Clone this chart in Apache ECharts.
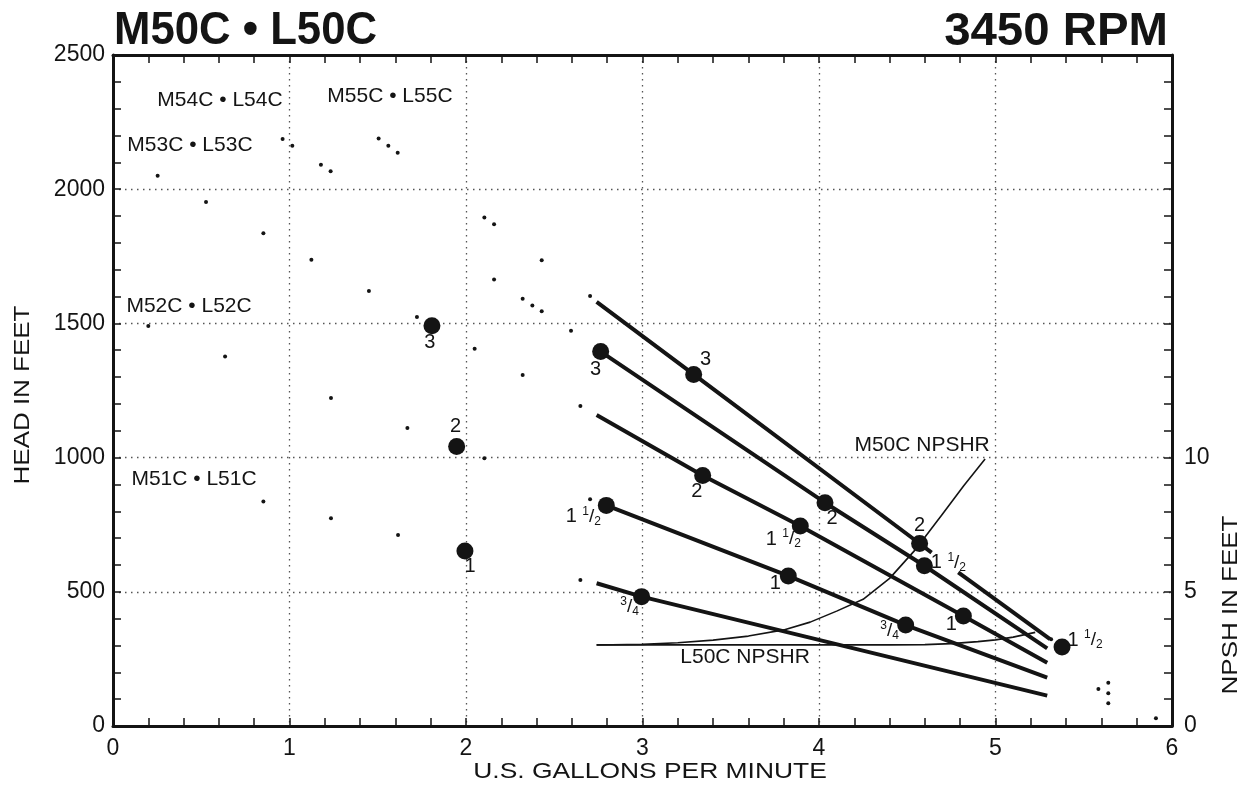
<!DOCTYPE html>
<html>
<head>
<meta charset="utf-8">
<script src="https://cdn.jsdelivr.net/npm/echarts@6/dist/echarts.min.js"></script>
<style>
html,body{margin:0;padding:0;background:#ffffff;}
#chart{width:1243px;height:796px;}
</style>
</head>
<body>
<div id="chart"></div>
<script>
// ---------- texts ----------
const titleLeft = 'M50C • L50C';
const titleRight = '3450 RPM';
const xAxisTitle = 'U.S. GALLONS PER MINUTE';
const yAxisTitle = 'HEAD IN FEET';
const y2AxisTitle = 'NPSH IN FEET';

// ---------- axes ----------
const xMin = 0, xMax = 6, xStep = 1;
const headMin = 0, headMax = 2500, headStep = 500;
const npshMin = 0, npshMax = 25, npshStep = 5;
const npshLabelled = [0, 5, 10];

// ---------- pump curves (gpm, head ft) ----------
const curve1a = [[2.740, 1580], [3.290, 1310], [4.570, 680], [4.638, 646]];
const curve1b = [[4.789, 572], [5.309, 324]];
const curve2 = [[2.763, 1395], [4.034, 832], [4.597, 597], [5.293, 289]];
const curve3 = [[2.740, 1159], [3.341, 933], [3.894, 745], [4.818, 410], [5.293, 236]];
const curve4 = [[2.795, 822], [3.826, 559], [4.491, 376], [5.293, 180]];
const curve5 = [[2.740, 532], [2.995, 482], [5.293, 113]];

// ---------- NPSHR curves (gpm, NPSH ft) ----------
const npshrM50C = [[2.740, 3.02], [3.000, 3.04], [3.200, 3.10], [3.400, 3.20], [3.600, 3.35],
                   [3.800, 3.58], [3.950, 3.87], [4.100, 4.28], [4.250, 4.72], [4.400, 5.50],
                   [4.550, 6.60], [4.700, 7.90], [4.820, 8.95], [4.941, 9.95]];
const npshrL50C = [[2.740, 3.02], [4.400, 3.02], [4.600, 3.03], [4.750, 3.07], [4.900, 3.14],
                   [5.000, 3.21], [5.100, 3.31], [5.225, 3.49]];

// ---------- horsepower points (gpm, head ft, label) ----------
const hpPoints = [
  [1.807, 1491, '3'], [1.947, 1041, '2'], [1.994, 652, '1'],
  [2.763, 1395, '3'], [3.290, 1310, '3'], [3.341, 933, '2'],
  [2.795, 822, '1 1/2'], [4.034, 832, '2'], [3.894, 745, '1 1/2'],
  [4.570, 680, '2'], [4.597, 597, '1 1/2'], [3.826, 559, '1'],
  [2.995, 482, '3/4'], [4.491, 376, '3/4'], [4.818, 410, '1'],
  [5.377, 294, '1 1/2']
];
// label offsets (pixels) for the points above, same order
const hpLabelOffsets = [
  [-2, 17], [-1, -20], [5, 15],
  [-5, 18], [12, -15], [-6, 16],
  [-23, 11], [7, 16], [-17, 13],
  [0, -18], [24, -3], [-13, 8],
  [-12, 10], [-16, 6], [-12, 9],
  [23, -7]
];

// ---------- small dots (gpm, head ft) ----------
const smallDots = [
  [0.253, 2050], [0.961, 2187], [1.016, 2162], [1.178, 2091], [1.233, 2067],
  [1.505, 2189], [1.560, 2162], [1.613, 2136],
  [0.527, 1952], [0.852, 1836], [1.124, 1737], [1.450, 1621], [1.722, 1524],
  [2.104, 1895], [2.159, 1869], [2.429, 1735], [2.159, 1664], [2.321, 1592],
  [2.376, 1567], [2.429, 1545],
  [0.200, 1490], [0.635, 1377], [2.049, 1406], [2.321, 1308], [1.235, 1222],
  [1.668, 1110], [2.104, 998], [0.852, 836], [1.235, 774], [1.615, 712],
  [2.703, 1602], [2.595, 1473], [2.648, 1192], [2.703, 845], [2.648, 544],
  [5.583, 138], [5.639, 161], [5.639, 122], [5.639, 85], [5.909, 29], [5.315, 323]
];

// ---------- text annotations (gpm, head ft, text) ----------
const modelLabels = [
  [0.606, 2332, 'M54C • L54C'],
  [1.569, 2347, 'M55C • L55C'],
  [0.436, 2165, 'M53C • L53C'],
  [0.431, 1565, 'M52C • L52C'],
  [0.459, 920, 'M51C • L51C']
];
const npshrLabels = [
  [4.584, 1047, 'M50C NPSHR'],
  [3.581, 258, 'L50C NPSHR']
];

// ---------- chart ----------
const FONT = '"Liberation Sans", Arial, Helvetica, sans-serif';
const INK = '#141414';
const dotted = { type: [1.5, 4.5], width: 1.3, color: '#555' };

function richLabel(s) {
  if (s.indexOf('/') < 0) return '{w|' + s + '}';
  const parts = s.split(' ');
  let out = '';
  const frac = parts[parts.length - 1];
  if (parts.length > 1) out += '{w|' + parts[0] + ' }';
  const nd = frac.split('/');
  out += '{n|' + nd[0] + '}{s|/}{d|' + nd[1] + '}';
  return out;
}

const richStyles = {
  w: { fontSize: 20, lineHeight: 22, fontFamily: FONT, color: INK },
  n: { fontSize: 12, lineHeight: 12, fontFamily: FONT, color: INK, verticalAlign: 'top' },
  s: { fontSize: 19, lineHeight: 22, fontFamily: FONT, color: INK },
  d: { fontSize: 12, lineHeight: 12, fontFamily: FONT, color: INK, verticalAlign: 'bottom' }
};

function lineSeries(data) {
  return {
    type: 'line', data: data, symbol: 'none', silent: true, z: 3,
    lineStyle: { width: 4, color: INK, cap: 'butt' }
  };
}

const baseXAxis = {
  type: 'value', min: xMin, max: xMax, interval: xStep,
  axisLine: { show: true, onZero: false, lineStyle: { color: INK, width: 3 } },
  axisTick: { show: true, inside: true, length: 8, lineStyle: { color: INK, width: 1.5 } },
  minorTick: { show: true, splitNumber: 5, length: 8, lineStyle: { color: INK, width: 1.5 } }
};

const option = {
  animation: false,
  backgroundColor: '#ffffff',
  grid: { left: 113, right: 71, top: 55, bottom: 70, containLabel: false },
  xAxis: [
    Object.assign({}, baseXAxis, {
      position: 'bottom',
      axisLabel: { show: true, margin: 11, fontSize: 23, color: INK, fontFamily: FONT },
      splitLine: { show: true, lineStyle: dotted }
    }),
    Object.assign({}, baseXAxis, {
      position: 'top',
      axisLabel: { show: false },
      splitLine: { show: false }
    })
  ],
  yAxis: [
    {
      type: 'value', position: 'left', min: headMin, max: headMax, interval: headStep,
      axisLine: { show: true, onZero: false, lineStyle: { color: INK, width: 3 } },
      axisTick: { show: true, inside: true, length: 8, lineStyle: { color: INK, width: 1.5 } },
      minorTick: { show: true, splitNumber: 5, length: 8, lineStyle: { color: INK, width: 1.5 } },
      axisLabel: { show: true, margin: 8, fontSize: 23, color: INK, fontFamily: FONT,
                   formatter: v => String(v) },
      splitLine: { show: true, lineStyle: dotted }
    },
    {
      type: 'value', position: 'right', min: npshMin, max: npshMax, interval: npshStep,
      axisLine: { show: true, onZero: false, lineStyle: { color: INK, width: 3 } },
      axisTick: { show: true, inside: true, length: 8, lineStyle: { color: INK, width: 1.5 } },
      minorTick: { show: true, splitNumber: 5, length: 8, lineStyle: { color: INK, width: 1.5 } },
      axisLabel: {
        show: true, margin: 12, fontSize: 23, color: INK, fontFamily: FONT,
        formatter: v => (npshLabelled.indexOf(v) >= 0 ? String(v) : '')
      },
      splitLine: { show: false }
    }
  ],
  graphic: [
    { type: 'text', x: 114, y: 31, scaleX: 0.95, z: 10,
      style: { text: titleLeft, font: 'bold 46px ' + FONT, fill: INK, textAlign: 'left', textVerticalAlign: 'middle' } },
    { type: 'text', x: 1168, y: 32, scaleX: 1.03, z: 10,
      style: { text: titleRight, font: 'bold 46px ' + FONT, fill: INK, textAlign: 'right', textVerticalAlign: 'middle' } },
    { type: 'text', x: 650, y: 772, scaleX: 1.2, z: 10,
      style: { text: xAxisTitle, font: '22px ' + FONT, fill: INK, textAlign: 'center', textVerticalAlign: 'middle' } },
    { type: 'text', x: 23, y: 395, rotation: Math.PI / 2, scaleX: 1.18, z: 10,
      style: { text: yAxisTitle, font: '22px ' + FONT, fill: INK, textAlign: 'center', textVerticalAlign: 'middle' } },
    { type: 'text', x: 1231, y: 605, rotation: Math.PI / 2, scaleX: 1.18, z: 10,
      style: { text: y2AxisTitle, font: '22px ' + FONT, fill: INK, textAlign: 'center', textVerticalAlign: 'middle' } }
  ],
  series: [
    lineSeries(curve1a), lineSeries(curve1b), lineSeries(curve2),
    lineSeries(curve3), lineSeries(curve4), lineSeries(curve5),
    {
      type: 'line', yAxisIndex: 1, data: npshrM50C, symbol: 'none', silent: true, z: 2,
      smooth: false, lineStyle: { width: 1.6, color: INK, join: 'round' }
    },
    {
      type: 'line', yAxisIndex: 1, data: npshrL50C, symbol: 'none', silent: true, z: 2,
      smooth: false, lineStyle: { width: 1.8, color: INK, join: 'round' }
    },
    {
      type: 'scatter', data: smallDots, symbol: 'circle', symbolSize: 4, silent: true, z: 4,
      itemStyle: { color: INK, opacity: 1 }
    },
    {
      type: 'scatter', symbol: 'circle', symbolSize: 17, silent: true, z: 5,
      itemStyle: { color: INK, opacity: 1 },
      data: hpPoints.map((p, i) => ({
        value: [p[0], p[1]],
        label: { offset: hpLabelOffsets[i] },
        name: p[2]
      })),
      label: {
        show: true, position: 'inside', align: 'center', verticalAlign: 'middle',
        formatter: prm => richLabel(prm.name),
        rich: richStyles
      }
    },
    {
      type: 'scatter', symbol: 'circle', symbolSize: 1, silent: true, z: 6,
      itemStyle: { color: 'rgba(0,0,0,0)', opacity: 1 },
      data: modelLabels.concat(npshrLabels).map(p => ({ value: [p[0], p[1]], name: p[2] })),
      label: {
        show: true, position: 'inside', align: 'center', verticalAlign: 'middle',
        formatter: prm => prm.name,
        fontSize: 21, color: INK, fontFamily: FONT
      }
    }
  ]
};

const chart = echarts.init(document.getElementById('chart'), null, { renderer: 'canvas' });
chart.setOption(option);
</script>
</body>
</html>
